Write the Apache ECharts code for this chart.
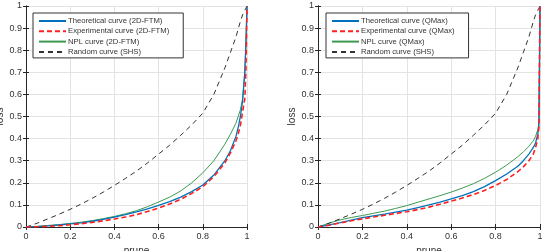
<!DOCTYPE html>
<html><head><meta charset="utf-8">
<script src="https://cdn.jsdelivr.net/npm/echarts@6/dist/echarts.min.js"></script>
<style>html,body{margin:0;padding:0;background:#fff}#c{width:542px;height:251px}</style>
</head><body><div id="c"></div>
<script>
const prune = [0,0.05,0.1,0.15,0.2,0.25,0.3,0.35,0.4,0.45,0.5,0.55,0.6,0.65,0.7,0.75,0.8,0.85,0.9,0.925,0.95,0.96,0.97,0.98,0.99,0.995,1];

const randomSHS = [0,0.017,0.037,0.058,0.08,0.104,0.13,0.158,0.188,0.22,0.253,0.29,0.33,0.37,0.415,0.462,0.515,0.6,0.72,0.79,0.86,0.895,0.93,0.96,0.98,0.99,1];

const theo2D = [0,0.002,0.005,0.009,0.014,0.019,0.026,0.035,0.045,0.056,0.068,0.082,0.098,0.115,0.135,0.16,0.19,0.235,0.3,0.345,0.41,0.45,0.5,0.57,0.7,0.83,1];
const exp2D  = [0,0.001,0.003,0.006,0.01,0.015,0.021,0.028,0.036,0.045,0.056,0.07,0.086,0.104,0.125,0.152,0.182,0.228,0.29,0.335,0.39,0.42,0.46,0.52,0.58,0.7,1];
const npl2D  = [0,0.003,0.007,0.011,0.016,0.022,0.029,0.038,0.048,0.06,0.074,0.092,0.113,0.135,0.163,0.2,0.245,0.3,0.375,0.42,0.47,0.5,0.53,0.58,0.7,0.82,1];

const theoQ = [0,0.01,0.02,0.031,0.042,0.05,0.058,0.067,0.076,0.088,0.1,0.113,0.127,0.142,0.16,0.183,0.21,0.24,0.275,0.3,0.33,0.345,0.36,0.38,0.42,0.46,1];
const expQ  = [0,0.008,0.018,0.028,0.037,0.045,0.053,0.061,0.069,0.079,0.09,0.103,0.117,0.131,0.147,0.165,0.188,0.215,0.25,0.272,0.3,0.315,0.33,0.36,0.4,0.45,1];
const nplQ  = [0,0.018,0.032,0.043,0.052,0.062,0.072,0.084,0.097,0.112,0.127,0.142,0.158,0.176,0.196,0.22,0.248,0.28,0.318,0.34,0.365,0.378,0.39,0.41,0.44,0.47,1];

const namesLeft = ['Theoretical curve (2D-FTM)','Experimental curve (2D-FTM)','NPL curve (2D-FTM)','Random curve (SHS)'];
const namesRight = ['Theoretical curve (QMax)','Experimental curve (QMax)','NPL curve (QMax)','Random curve (SHS) '];
const xTicks = {min:0,max:1,interval:0.2};
const yTicks = {min:0,max:1,interval:0.1};

const FONT = 'Liberation Sans';
const TXT = '#333';
const pair = ys => prune.map((x,i)=>[x,ys[i]]);

function axesX(g){
  return [
    {type:'value',gridIndex:g,min:xTicks.min,max:xTicks.max,interval:xTicks.interval,position:'bottom',
     name:'prune',nameLocation:'middle',nameGap:14.5,nameTextStyle:{fontFamily:FONT,fontSize:10,color:TXT},
     axisLine:{lineStyle:{color:'#262626'}},axisTick:{inside:true,length:3,lineStyle:{color:'#262626'}},
     axisLabel:{fontFamily:FONT,fontSize:9,color:TXT,margin:5,formatter:v=>String(+v.toFixed(1))},
     splitLine:{show:true,lineStyle:{color:'#e3e3e3'}}},
    {type:'value',gridIndex:g,min:xTicks.min,max:xTicks.max,interval:xTicks.interval,position:'top',
     axisLine:{lineStyle:{color:'#262626'}},axisTick:{inside:true,length:3,lineStyle:{color:'#262626'}},
     axisLabel:{show:false},splitLine:{show:false}}
  ];
}
function axesY(g){
  return [
    {type:'value',gridIndex:g,min:yTicks.min,max:yTicks.max,interval:yTicks.interval,position:'left',
     name:'loss',nameLocation:'middle',nameGap:21,nameTextStyle:{fontFamily:FONT,fontSize:10,color:TXT},
     axisLine:{show:true,lineStyle:{color:'#262626'}},axisTick:{show:true,inside:true,length:3,lineStyle:{color:'#262626'}},
     axisLabel:{fontFamily:FONT,fontSize:9,color:TXT,margin:4,formatter:v=>String(+v.toFixed(1))},
     splitLine:{show:true,lineStyle:{color:'#e3e3e3'}}},
    {type:'value',gridIndex:g,min:yTicks.min,max:yTicks.max,interval:yTicks.interval,position:'right',
     axisLine:{show:true,lineStyle:{color:'#262626'}},axisTick:{show:true,inside:true,length:3,lineStyle:{color:'#262626'}},
     axisLabel:{show:false},splitLine:{show:false}}
  ];
}
function mkSeries(names, t, e, n, g){
  const xi = g*2, yi = g*2;
  const base = {type:'line',xAxisIndex:xi,yAxisIndex:yi,symbol:'none',showSymbol:false,animation:false,z:3};
  return [
    Object.assign({},base,{name:names[0],data:pair(t),lineStyle:{color:'#0072BD',width:1.3},itemStyle:{color:'#0072BD'},z:4}),
    Object.assign({},base,{name:names[1],data:pair(e),lineStyle:{color:'#FF2020',width:1.6,type:[5,3]},itemStyle:{color:'#FF2020'},z:5}),
    Object.assign({},base,{name:names[2],data:pair(n),lineStyle:{color:'#3C9A50',width:1},itemStyle:{color:'#3C9A50'}}),
    Object.assign({},base,{name:names[3],data:pair(randomSHS),lineStyle:{color:'#333',width:1,type:[5,4]},itemStyle:{color:'#333'}})
  ];
}
function mkLegend(names,left){
  return {data:names,orient:'vertical',left:left,top:13,itemWidth:27,itemHeight:8,itemGap:0.3,
    padding:[3,14,1,5],borderColor:'#333',borderWidth:1,backgroundColor:'#fff',
    itemStyle:{opacity:0},
    textStyle:{fontFamily:FONT,fontSize:7.7,lineHeight:10,color:TXT,padding:[0,0,0,-3]}};
}
const chart = echarts.init(document.getElementById('c'),null,{renderer:'canvas'});
chart.setOption({
  animation:false,
  grid:[{left:26,top:6,width:221,height:221,containLabel:false,outerBoundsMode:'none'},
        {left:318,top:6,width:222,height:221,containLabel:false,outerBoundsMode:'none'}],
  xAxis:[...axesX(0),...axesX(1)],
  yAxis:[...axesY(0),...axesY(1)],
  legend:[mkLegend(namesLeft,33),mkLegend(namesRight,326)],
  series:[...mkSeries(namesLeft,theo2D,exp2D,npl2D,0),...mkSeries(namesRight,theoQ,expQ,nplQ,1)]
});
</script></body></html>
